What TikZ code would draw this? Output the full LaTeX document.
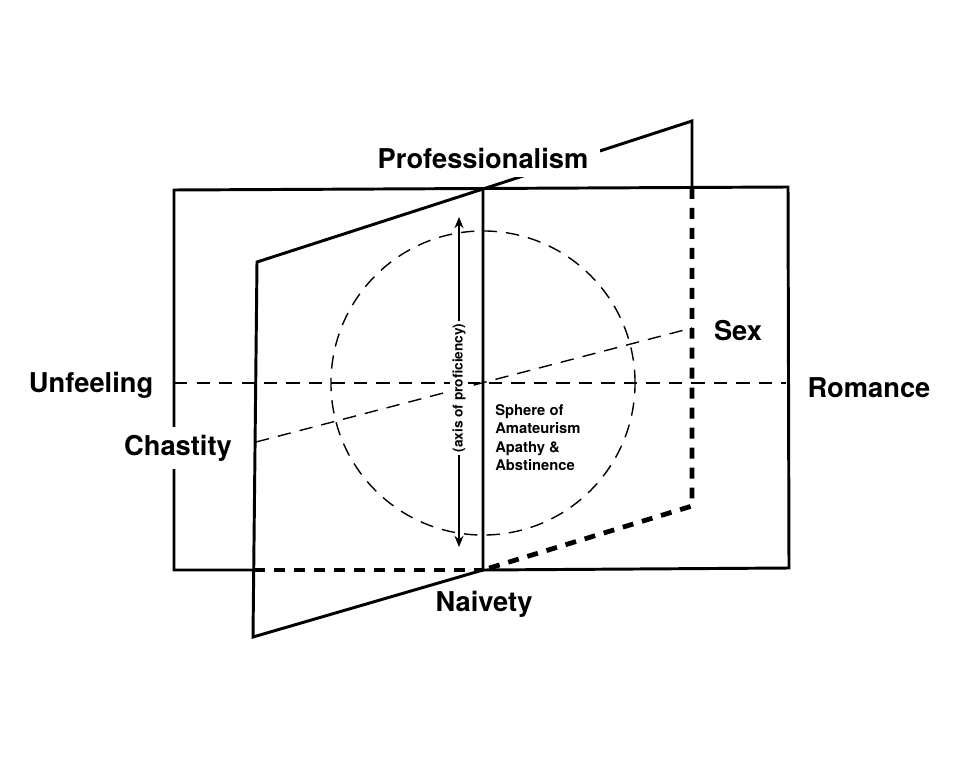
\documentclass[tikz,border=0pt]{standalone}
\usepackage{fontspec}
\setmainfont{TeX Gyre Heros}
\usetikzlibrary{arrows.meta}

\begin{document}
\begin{tikzpicture}[
  x=0.025cm, y=-0.025cm,
  >={Stealth[length=8pt,width=6.5pt]},
  edge/.style={line width=2.1pt},
  hidden/.style={line width=3.4pt, dash pattern=on 7.8pt off 6.4pt},
  guide/.style={line width=1pt, dash pattern=on 9.5pt off 6.5pt},
  pole/.style={font=\bfseries\fontsize{19.4}{23}\selectfont, anchor=base, inner sep=0pt},
  note/.style={font=\bfseries\fontsize{10.5}{13.2}\selectfont, align=left,
               anchor=north west, inner sep=0pt},
]
  \useasboundingbox (0,0) rectangle (960,768);

  % upright plane
  \coordinate (rTL) at (174,190);
  \coordinate (rTR) at (788,187);
  \coordinate (rBR) at (789,568);
  \coordinate (rBL) at (174,570);
  % tilted plane
  \coordinate (hTop) at (483,189);
  \coordinate (hBot) at (483,570);
  \coordinate (fTL) at (257,262);
  \coordinate (fBL) at (253,637);
  \coordinate (fX) at (254,570);
  \coordinate (bTop) at (692,121);
  \coordinate (bMid) at (692,188);
  \coordinate (bBot) at (692,506);
  % axes
  \coordinate (ctr) at (483,383);
  \coordinate (uf) at (174,383);
  \coordinate (ro) at (786,383);
  \coordinate (ch) at (256,442);
  \coordinate (sx) at (692,328);
  \coordinate (axTop) at (459,217);
  \coordinate (axBot) at (459,547);

  % sphere and guide lines
  \draw[guide] (ctr) circle[radius=3.8cm];
  \draw[guide] (uf) -- (ro);
  \draw[guide] (ch) -- (sx);

  \draw[edge] (hBot) -- (rBR) -- (rTR) -- (rTL) -- (rBL) -- (fX);
  \draw[hidden] (fX) -- (hBot);

  \draw[edge] (hTop) -- (hBot) -- (fBL) -- (fTL) -- (hTop) -- (bTop) -- (bMid);
  \draw[hidden] (bMid) -- (bBot) -- (hBot);

  \draw[<->, line width=0.9pt] (axTop) -- (axBot);
  \node[rotate=90, fill=white, inner sep=2pt,
        font=\bfseries\fontsize{9.7}{11}\selectfont] (axis) at (459,388) {(axis of proficiency)};

  \node[pole, fill=white, inner xsep=8pt, inner ysep=5.5pt] (prof) at (483,169) {Professionalism};
  \node[pole] (unf) at (91,392) {Unfeeling};
  \node[pole] (rom) at (869,397) {Romance};
  \node[pole, fill=white, inner xsep=3pt, inner ysep=5.5pt] (cha) at (178,455) {Chastity};
  \node[pole] (sex) at (738,340) {Sex};
  \node[pole] (nai) at (484,611) {Naivety};

  \node[note] (sphere) at (495,404) {Sphere of\\Amateurism\\Apathy \&\\Abstinence};
\end{tikzpicture}
\end{document}
